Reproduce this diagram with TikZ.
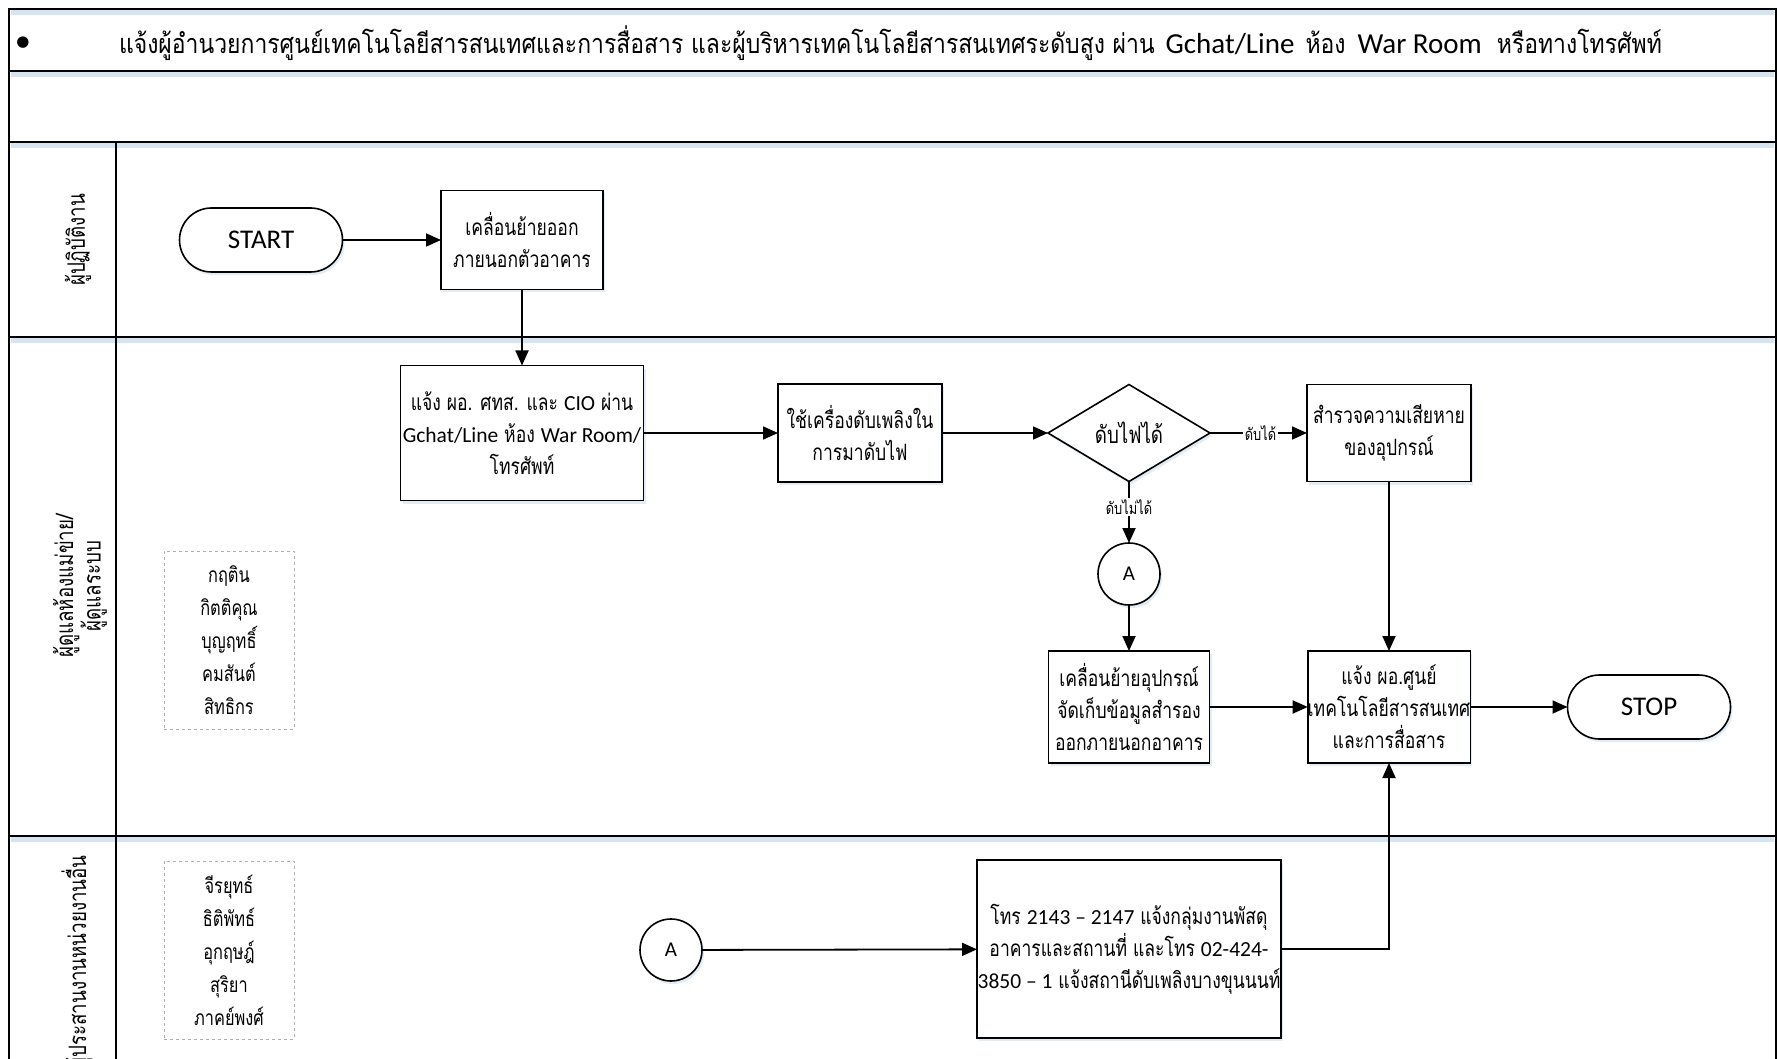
\documentclass[tikz,border=0pt]{standalone}
\usepackage{fontspec}
\setmainfont{Carlito}
\newfontfamily\thaifont[Script=Thai, FakeStretch=0.78]{Loma}
\newfontfamily\thaihead[Script=Thai, FakeStretch=0.85]{Loma}
\newfontfamily\latinfont{Carlito}
\newfontfamily\symfont{DejaVu Sans}
\usetikzlibrary{arrows.meta,shapes.geometric,shapes.misc,shadows}

% Latin runs inside Thai text
\newcommand\lat[1]{{\latinfont\fontsize{21.5}{32}\selectfont #1}}
\newcommand\headlat[1]{{\latinfont\fontsize{29}{30}\selectfont #1}}

\definecolor{lineshade}{RGB}{214,228,242}
\definecolor{dashgray}{RGB}{175,175,175}

\begin{document}
\begin{tikzpicture}[x=1pt,y=-1pt,
  every node/.style={inner sep=0pt, outer sep=0pt},
  frame/.style={line width=2.2pt, black},
  frameshade/.style={line width=5pt, lineshade},
  boxshadow/.style={drop shadow={shadow xshift=2pt, shadow yshift=-3pt, fill=lineshade, opacity=0.7}},
  proc/.style={draw, line width=1.6pt, fill=white, rectangle, align=center, boxshadow,
    font=\thaifont\fontsize{22.5}{32}\selectfont},
  term/.style={draw, line width=1.6pt, fill=white, rounded rectangle, boxshadow,
    minimum width=163pt, minimum height=64pt, font=\latinfont\fontsize{27}{30}\selectfont},
  decision/.style={draw, line width=1.6pt, fill=white, diamond, minimum width=162pt,
    minimum height=97pt, boxshadow, font=\thaifont\fontsize{24}{26}\selectfont},
  conn/.style={draw, line width=1.6pt, fill=white, circle, minimum size=62pt, boxshadow,
    font=\latinfont\fontsize{21}{24}\selectfont},
  names/.style={draw=dashgray, dashed, line width=0.9pt, rectangle, align=center,
    minimum width=130pt, minimum height=178pt, font=\thaifont\fontsize{21}{33}\selectfont},
  lane/.style={rotate=90, align=center, font=\thaifont\fontsize{24}{25}\selectfont},
  flow/.style={line width=1.8pt, -{Triangle[length=15pt,width=13pt]}},
  tag/.style={fill=white, inner sep=1.5pt, font=\thaifont\fontsize{16.5}{18}\selectfont},
]
\useasboundingbox (0,0) rectangle (1778,1059);
\fill[white] (0,0) rectangle (1778,1059);

% soft shading under the horizontal rules
\foreach \yy in {9,71,142,337,836} \draw[frameshade] (11,\yy+3.5) -- (1774,\yy+3.5);

% table frame
\draw[frame] (9,9) rectangle (1776,1070);
\foreach \yy in {71,142,337,836} \draw[frame] (9,\yy) -- (1776,\yy);
\draw[frame] (116,142) -- (116,1070);

% header
\node[font=\symfont\fontsize{15}{15}\selectfont] (bullet) at (23,43) {●};
\node[anchor=west, font=\thaihead\fontsize{27}{28}\selectfont] (title) at (119,43)
  {แจ้งผู้อำนวยการศูนย์เทคโนโลยีสารสนเทศและการสื่อสาร และผู้บริหารเทคโนโลยีสารสนเทศระดับสูง ผ่าน\hspace{11pt}\headlat{Gchat/Line}\hspace{11pt}ห้อง\hspace{12pt}\headlat{War Room}\hspace{15pt}หรือทางโทรศัพท์};

% lane titles
\node[lane] (lane1) at (78,240) {ผู้ปฏิบัติงาน};
\node[lane] (lane2) at (80,586) {ผู้ดูแลห้องแม่ข่าย/\\ผู้ดูแลระบบ};
\node[lane] (lane3) at (77,962) {ผู้ประสานงานหน่วยงานอื่น};

% staff lists
\node[names] (staff2) at (229,640) {กฤติน\\กิตติคุณ\\บุญฤทธิ์\\คมสันต์\\สิทธิกร};
\node[names] (staff3) at (229,950) {จีรยุทธ์\\ธิติพัทธ์\\อุกฤษฎ์\\สุริยา\\ภาคย์พงศ์};

% flow nodes
\node[term] (start) at (261,240) {START};
\node[proc, minimum width=162pt, minimum height=99pt] (move1) at (522,240)
  {เคลื่อนย้ายออก\\ภายนอกตัวอาคาร};
\node[proc, minimum width=243pt, minimum height=135pt] (notify1) at (522,433)
  {แจ้ง ผอ. ศทส. และ \lat{CIO} ผ่าน\\\lat{Gchat/Line} ห้อง \lat{War Room/}\\โทรศัพท์};
\node[proc, minimum width=164pt, minimum height=98pt] (ext) at (860,433)
  {ใช้เครื่องดับเพลิงใน\\การมาดับไฟ};
\node[decision] (dec) at (1129,433) {ดับไฟได้};
\node[proc, minimum width=164pt, minimum height=97pt] (survey) at (1389,433)
  {สำรวจความเสียหาย\\ของอุปกรณ์};
\node[conn] (connA1) at (1129,574) {A};
\node[proc, minimum width=161pt, minimum height=112pt] (moveEq) at (1129,707)
  {เคลื่อนย้ายอุปกรณ์\\จัดเก็บข้อมูลสำรอง\\ออกภายนอกอาคาร};
\node[proc, minimum width=162pt, minimum height=112pt] (notify2) at (1389,707)
  {แจ้ง ผอ.ศูนย์\\เทคโนโลยีสารสนเทศ\\และการสื่อสาร};
\node[term] (stop) at (1649,707) {STOP};
\node[conn] (connA2) at (671,950) {A};
\node[proc, minimum width=304pt, minimum height=178pt] (phone) at (1129,949)
  {โทร \lat{2143 – 2147} แจ้งกลุ่มงานพัสดุ\\อาคารและสถานที่ และโทร \lat{02-424-}\\\lat{3850 – 1} แจ้งสถานีดับเพลิงบางขุนนนท์};

% connectors
\draw[flow] (start) -- (move1);
\draw[flow] (move1) -- (notify1);
\draw[flow] (notify1) -- (ext);
\draw[flow] (ext) -- (dec);
\draw[flow] (dec) -- node[tag, pos=0.52] (yes) {ดับได้} (survey);
\draw[flow] (dec) -- node[tag, pos=0.42] (no) {ดับไม่ได้} (connA1);
\draw[flow] (connA1) -- (moveEq);
\draw[flow] (survey) -- (notify2);
\draw[flow] (moveEq) -- (notify2);
\draw[flow] (notify2) -- (stop);
\draw[flow] (connA2) -- (phone);
\draw[flow] (phone.east) -| (notify2.south);
\end{tikzpicture}
\end{document}
